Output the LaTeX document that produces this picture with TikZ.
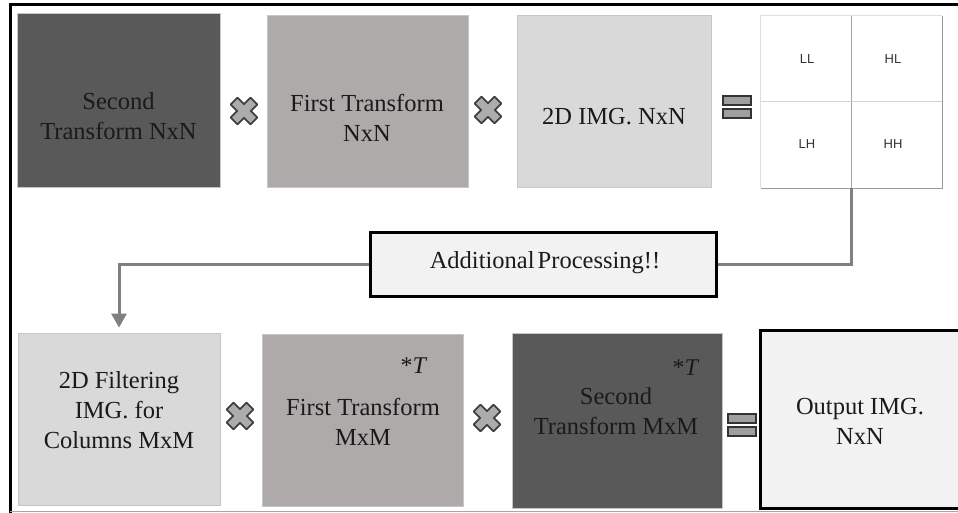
\documentclass[tikz,border=0pt]{standalone}
\usepackage{fontspec}
\setmainfont{Liberation Serif}
\newfontfamily\labsans{Liberation Sans}
\usetikzlibrary{arrows.meta,calc}
\definecolor{cdark}{HTML}{595959}
\definecolor{cmid}{HTML}{AEAAAA}
\definecolor{clight}{HTML}{D9D9D9}
\definecolor{cpale}{HTML}{F2F2F2}
\definecolor{cline}{HTML}{808080}
\definecolor{ctext}{HTML}{1A1A1A}
\tikzset{
  blockbox/.style={draw=gray!45, line width=0.8pt, inner sep=0pt},
  blocktext/.style={align=center, inner sep=0pt, font=\fontsize{24.5}{30}\selectfont, text=ctext},
  sublabel/.style={font=\labsans\fontsize{13}{15}\selectfont, text=black!80},
  tmark/.style={font=\fontsize{24}{26}\selectfont, text=ctext},
  flowline/.style={draw=cline, line width=3pt},
  crossmark/.pic={
    \draw[fill=gray!65, draw=black!75, line width=1.8pt, rotate=45, line join=round]
      (4.8,4.8) -- (14,4.8) -- (14,-4.8) -- (4.8,-4.8) -- (4.8,-14) -- (-4.8,-14)
      -- (-4.8,-4.8) -- (-14,-4.8) -- (-14,4.8) -- (-4.8,4.8) -- (-4.8,14)
      -- (4.8,14) -- cycle;
  },
  eqmark/.pic={
    \draw[fill=gray!75, draw=black!80, line width=1.8pt] (-14,-11) rectangle (14,-2);
    \draw[fill=gray!75, draw=black!80, line width=1.8pt] (-14,2) rectangle (14,11);
  }
}
\begin{document}
\begin{tikzpicture}[x=1pt,y=-1pt]
\useasboundingbox (0,0) rectangle (958,513);
% outer frame
\draw[line width=3pt] (10.5,513) -- (10.5,4.5) -- (962,4.5);
\draw[gray!70, line width=1.2pt] (10,511.5) -- (958,511.5);

% top row
\node[blockbox, fill=cdark, minimum width=203pt, minimum height=174pt] (b1) at (118.5,100) {};
\node[blockbox, fill=cmid, minimum width=201pt, minimum height=172pt] (b2) at (367.5,101) {};
\node[blockbox, fill=clight, minimum width=194pt, minimum height=172pt] (b3) at (614,101) {};
\node[blocktext] (t1) at (118.5,116) {Second\\Transform NxN};
\node[blocktext] (t2) at (367,118) {First Transform\\NxN};
\node[blocktext] (t3) at (614,117) {2D IMG. NxN};
\pic at (244,111) {crossmark};
\pic at (488,110) {crossmark};
\pic at (737,107) {eqmark};

% subband grid
\node[minimum width=181pt, minimum height=172pt, inner sep=0pt, fill=white] (grid) at (851.5,102) {};
\draw[gray!25, line width=0.8pt] (grid.south west) -- (grid.north west) -- (grid.north east);
\draw[gray!80, line width=1.2pt] (grid.north east) -- (grid.south east) -- (grid.south west);
\draw[gray!70, line width=1.2pt] (grid.north) -- (grid.south);
\draw[gray!35, line width=1pt] (grid.west) -- (grid.east);
\node[sublabel] (ll) at (807,59) {LL};
\node[sublabel] (hl) at (893,59) {HL};
\node[sublabel] (lh) at (807,144) {LH};
\node[sublabel] (hh) at (893,144) {HH};

% additional processing
\node[draw=black, line width=2.2pt, fill=cpale, minimum width=346pt, minimum height=64pt,
  inner sep=0pt] (proc) at (543.5,264.5) {};
\node[blocktext] (proct) at (545,263) {Additional\hspace{-3pt} Processing!!};
\draw[flowline] (grid.south) |- (proc.east);

% bottom row
\node[blockbox, fill=clight, minimum width=202pt, minimum height=172pt] (b4) at (119,419) {};
\node[blockbox, fill=cmid, minimum width=201pt, minimum height=172pt] (b5) at (362.5,420) {};
\node[blockbox, fill=cdark, minimum width=210pt, minimum height=175pt] (b6) at (617,420.5) {};
\node[blocktext] (t4) at (119,410) {2D Filtering\\IMG. for\\Columns MxM};
\node[blocktext] (t5) at (363,422) {First Transform\\MxM};
\node[blocktext] (t6) at (616,411) {Second\\Transform MxM};
\node[tmark] (s5) at (414,366) {*\textit{T}};
\node[tmark] (s6) at (686,368) {*\textit{T}};
\pic at (240,416) {crossmark};
\pic at (487,418) {crossmark};
\pic at (742,425) {eqmark};
\node[draw=black, line width=3pt, fill=cpale, minimum width=204pt, minimum height=178pt,
  inner sep=0pt] (out) at (862,419) {};
\node[blocktext] (outt) at (860,421) {Output IMG.\\NxN};

\draw[flowline, -{Triangle[length=14pt,width=15pt]}, shorten >=5pt] (proc.west) -| (b4.north);
\end{tikzpicture}
\end{document}
